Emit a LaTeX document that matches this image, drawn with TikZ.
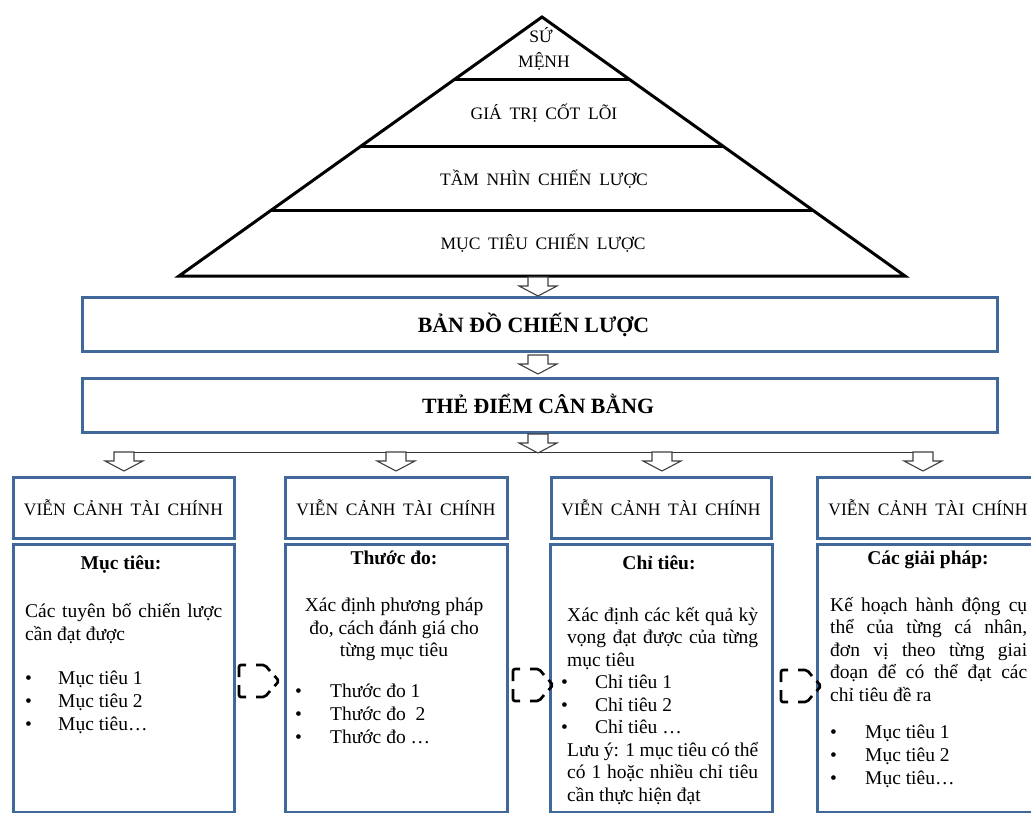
\documentclass[tikz,border=0pt]{standalone}
\usepackage{fontspec}
\setmainfont{Liberation Serif}
\usetikzlibrary{calc}
\definecolor{boxblue}{RGB}{65,104,155}
\newcommand\wsp[1]{{\spaceskip=0.44em\relax #1}}
\newcommand\hollowdown[2]{\draw[harr] ({#1-10},#2) -- ({#1+10},#2) -- ({#1+10},{#2+9}) -- ({#1+19},{#2+9}) -- (#1,{#2+19}) -- ({#1-19},{#2+9}) -- ({#1-10},{#2+9}) -- cycle;}
% dashed block arrow outline: left x, top y (40 x 32)
\newcommand\dashedarrow[2]{%
  \draw[darr] ({#1},{#2+12}) -- ({#1},{#2}) -- ({#1+7},{#2});
  \draw[darr] ({#1+17},{#2}) -- ({#1+26},{#2}) -- ({#1+31},{#2+6});
  \draw[darr] ({#1+35.5},{#2+10.9}) -- ({#1+40},{#2+16}) -- ({#1+35.5},{#2+21.1});
  \draw[darr] ({#1+31},{#2+26}) -- ({#1+26},{#2+32}) -- ({#1+17},{#2+32});
  \draw[darr] ({#1+7},{#2+32}) -- ({#1},{#2+32}) -- ({#1},{#2+20});}
\begin{document}
\begin{tikzpicture}[x=1pt,y=-1pt,
  bx/.style={draw=boxblue,line width=3pt,inner sep=0pt},
  pyr/.style={draw=black,line width=3pt,line join=miter},
  harr/.style={draw=black!75,line width=1.1pt,fill=white,line join=miter},
  darr/.style={draw=black,line width=2.7pt,line join=round,line cap=butt,rounded corners=2pt},
  pt/.style={inner sep=0pt,anchor=base,font=\fontsize{17.5}{21}\selectfont},
  ttl/.style={inner sep=0pt,anchor=base,font=\fontsize{21.8}{25}\selectfont\bfseries},
  vc/.style={font=\fontsize{17.5}{21}\selectfont},
  hd/.style={inner sep=0pt,anchor=base,font=\fontsize{19.5}{22.5}\selectfont\bfseries},
  tx/.style={inner sep=0pt,anchor=base west,font=\fontsize{19.5}{22.5}\selectfont},
  txc/.style={inner sep=0pt,anchor=base,font=\fontsize{19.5}{22.5}\selectfont}]
\useasboundingbox (0,0) rectangle (1031,813);
\clip (0,0) rectangle (1031,813);
\fill[white] (0,0) rectangle (1031,813);
% pyramid
\coordinate (apex) at (542,17);
\coordinate (bl) at (179,276);
\coordinate (br) at (905,276);
\draw[pyr] (bl) -- (apex) -- (br) -- cycle;
\draw[pyr] ($(apex)!0.2432!(bl)$) -- ($(apex)!0.2432!(br)$);
\draw[pyr] ($(apex)!0.5019!(bl)$) -- ($(apex)!0.5019!(br)$);
\draw[pyr] ($(apex)!0.749!(bl)$) -- ($(apex)!0.749!(br)$);
\node[pt] (su) at (541,43) {SỨ};
\node[pt] (menh) at (544,68) {MỆNH};
\node[pt] (gt) at (544,120) {\wsp{GIÁ TRỊ CỐT LÕI}};
\node[pt] (tn) at (544,186) {\wsp{TẦM NHÌN CHIẾN LƯỢC}};
\node[pt] (mt) at (543,250) {\wsp{MỤC TIÊU CHIẾN LƯỢC}};
% main boxes
\node[bx,minimum width=915pt,minimum height=54pt] (bando) at (539.5,324) {};
\node[ttl] (bandot) at (533.5,332) {BẢN ĐỒ CHIẾN LƯỢC};
\node[bx,minimum width=915pt,minimum height=54pt] (the) at (539.5,405) {};
\node[ttl] (thet) at (538,413) {THẺ ĐIỂM CÂN BẰNG};
\hollowdown{538}{277}
\hollowdown{538}{355}
\draw[line width=1pt,black!80] (114,452) -- (933,452);
\hollowdown{538}{434}
\hollowdown{124}{452}
\hollowdown{396}{452}
\hollowdown{662}{452}
\hollowdown{923}{452}
% column headers
\node[bx,vc,minimum width=221pt,minimum height=61pt] (v1) at (123.5,507.5) {\wsp{VIỄN CẢNH TÀI CHÍNH}};
\node[bx,vc,minimum width=222pt,minimum height=61pt] (v2) at (396,507.5) {\wsp{VIỄN CẢNH TÀI CHÍNH}};
\node[bx,vc,minimum width=220pt,minimum height=61pt] (v3) at (661,507.5) {\wsp{VIỄN CẢNH TÀI CHÍNH}};
\node[bx,vc,minimum width=222pt,minimum height=61pt] (v4) at (928,507.5) {\wsp{VIỄN CẢNH TÀI CHÍNH}};
% lower boxes
\node[bx,minimum width=221pt,minimum height=268pt] (b1) at (123.5,678) {};
\node[bx,minimum width=222pt,minimum height=268pt] (b2) at (396,678) {};
\node[bx,minimum width=222pt,minimum height=268pt] (b3) at (661,678) {};
\node[bx,minimum width=222pt,minimum height=268pt] (b4) at (928,678) {};
% dashed arrows
\dashedarrow{239}{665}
\dashedarrow{513}{669}
\dashedarrow{781}{670}
% column 1
\node[hd] (h1) at (121,569) {Mục tiêu:};
\node[tx] (c1a) at (25,617) {\makebox[197pt][s]{Các tuyên bố chiến lược}};
\node[tx] (c1b) at (25,640) {cần đạt được};
\node[tx] (c1c) at (25,684) {\makebox[33pt][l]{•}Mục tiêu 1};
\node[tx] (c1d) at (25,707) {\makebox[33pt][l]{•}Mục tiêu 2};
\node[tx] (c1e) at (25,730) {\makebox[33pt][l]{•}Mục tiêu…};
% column 2
\node[hd] (h2) at (394,564) {Thước đo:};
\node[txc] (c2a) at (394,611) {Xác định phương pháp};
\node[txc] (c2b) at (394,634) {đo, cách đánh giá cho};
\node[txc] (c2c) at (394,656) {từng mục tiêu};
\node[tx] (c2d) at (295,697) {\makebox[35pt][l]{•}Thước đo 1};
\node[tx] (c2e) at (295,720) {\makebox[35pt][l]{•}Thước đo\ \ 2};
\node[tx] (c2f) at (295,743) {\makebox[35pt][l]{•}Thước đo …};
% column 3
\node[hd] (h3) at (659,569) {Chỉ tiêu:};
\node[tx] (c3a) at (567,621) {\makebox[191pt][s]{Xác định các kết quả kỳ}};
\node[tx] (c3b) at (567,643.5) {\makebox[191pt][s]{vọng đạt được của từng}};
\node[tx] (c3c) at (567,666) {mục tiêu};
\node[tx] (c3d) at (561,688.5) {\makebox[34pt][l]{•}Chỉ tiêu 1};
\node[tx] (c3e) at (561,711) {\makebox[34pt][l]{•}Chỉ tiêu 2};
\node[tx] (c3f) at (561,733.5) {\makebox[34pt][l]{•}Chỉ tiêu …};
\node[tx] (c3g) at (567,756) {\makebox[191pt][s]{Lưu ý: 1 mục tiêu có thể}};
\node[tx] (c3h) at (567,778.5) {\makebox[191pt][s]{có 1 hoặc nhiều chỉ tiêu}};
\node[tx] (c3i) at (567,801) {cần thực hiện đạt};
% column 4
\node[hd] (h4) at (928,564) {Các giải pháp:};
\node[tx] (c4a) at (830,611) {\makebox[197pt][s]{Kế hoạch hành động cụ}};
\node[tx] (c4b) at (830,633.5) {\makebox[197pt][s]{thể của từng cá nhân,}};
\node[tx] (c4c) at (830,656) {\makebox[197pt][s]{đơn vị theo từng giai}};
\node[tx] (c4d) at (830,678.5) {\makebox[197pt][s]{đoạn để có thể đạt các}};
\node[tx] (c4e) at (830,701) {chỉ tiêu đề ra};
\node[tx] (c4f) at (830,738) {\makebox[35pt][l]{•}Mục tiêu 1};
\node[tx] (c4g) at (830,761) {\makebox[35pt][l]{•}Mục tiêu 2};
\node[tx] (c4h) at (830,784) {\makebox[35pt][l]{•}Mục tiêu…};
\end{tikzpicture}
\end{document}
